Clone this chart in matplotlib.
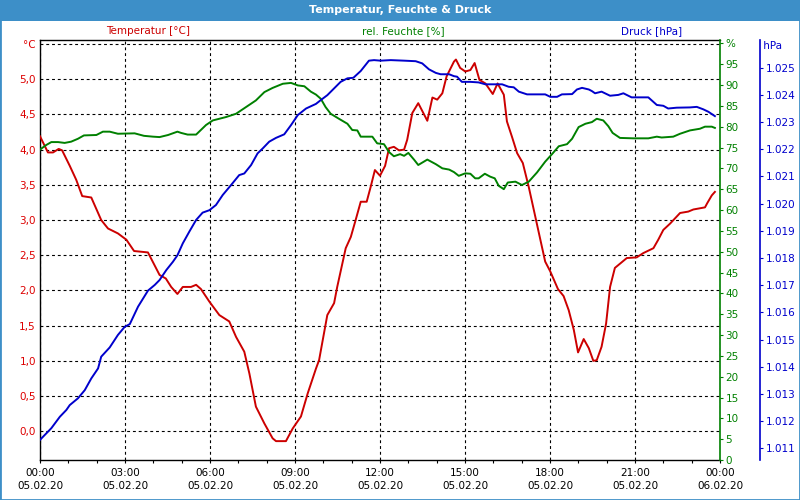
"""Temperatur, Feuchte & Druck - 24h weather station chart (05.02.20)."""
import matplotlib
matplotlib.use('Agg')
import matplotlib.pyplot as plt
from matplotlib.patches import Rectangle
from matplotlib.ticker import FixedLocator, MultipleLocator, FuncFormatter

plt.rcParams.update({'font.family': 'DejaVu Sans', 'font.size': 7.5})

RED   = '#cc0000'
GREEN = '#008000'
BLUE  = '#0000cc'
BAR   = '#3d8fc8'

# ---- data (hours since 05.02.20 00:00) ----
temp_h = [0.00, 0.28, 0.46, 0.66, 0.78, 1.05, 1.28, 1.49, 1.81, 2.16,
          2.40, 2.75, 3.05, 3.32, 3.81, 4.22, 4.44, 4.63, 4.85, 5.04,
          5.33, 5.51, 5.68, 5.98, 6.33, 6.68, 6.92, 7.21, 7.39, 7.62,
          7.92, 8.21, 8.33, 8.68, 8.92, 9.21, 9.45, 9.74, 9.85, 10.14,
          10.38, 10.49, 10.79, 10.97, 11.14, 11.32, 11.53, 11.67, 11.82, 12.00,
          12.18, 12.32, 12.49, 12.67, 12.85, 12.96, 13.14, 13.35, 13.67, 13.85,
          14.02, 14.20, 14.35, 14.61, 14.68, 14.83, 15.01, 15.19, 15.34, 15.51,
          15.72, 15.98, 16.15, 16.37, 16.48, 16.66, 16.84, 17.04, 17.25, 17.48,
          17.66, 17.83, 18.01, 18.28, 18.48, 18.66, 18.84, 18.99, 19.19, 19.37,
          19.53, 19.65, 19.82, 19.98, 20.12, 20.29, 20.47, 20.71, 21.06, 21.29,
          21.65, 21.82, 22.00, 22.24, 22.59, 22.88, 23.06, 23.47, 23.55, 23.71,
          23.82]
temp_c = [4.19, 3.96, 3.96, 4.01, 3.99, 3.77, 3.57, 3.34, 3.32, 3.00,
          2.88, 2.81, 2.72, 2.56, 2.54, 2.22, 2.17, 2.05, 1.95, 2.05,
          2.05, 2.08, 2.02, 1.84, 1.65, 1.56, 1.34, 1.13, 0.82, 0.35,
          0.11, -0.10, -0.14, -0.14, 0.04, 0.21, 0.54, 0.89, 1.01, 1.65,
          1.82, 2.05, 2.60, 2.76, 3.00, 3.26, 3.26, 3.47, 3.71, 3.63,
          3.77, 4.02, 4.04, 3.99, 4.00, 4.14, 4.52, 4.66, 4.41, 4.74,
          4.71, 4.80, 5.04, 5.25, 5.28, 5.16, 5.11, 5.13, 5.23, 4.99,
          4.94, 4.79, 4.94, 4.78, 4.40, 4.18, 3.95, 3.81, 3.47, 3.05,
          2.72, 2.41, 2.27, 2.02, 1.92, 1.72, 1.44, 1.12, 1.31, 1.18,
          1.00, 1.01, 1.20, 1.53, 2.05, 2.32, 2.38, 2.46, 2.47, 2.53,
          2.60, 2.72, 2.86, 2.95, 3.10, 3.12, 3.15, 3.18, 3.24, 3.35,
          3.40]

hum_h = [0.00, 0.22, 0.40, 0.64, 0.87, 1.10, 1.34, 1.55, 1.99, 2.22,
         2.46, 2.75, 3.34, 3.67, 3.99, 4.22, 4.52, 4.85, 4.98, 5.21,
         5.51, 5.86, 6.10, 6.33, 6.56, 6.92, 7.27, 7.62, 7.92, 8.21,
         8.57, 8.86, 9.10, 9.33, 9.56, 9.74, 9.91, 10.08, 10.26, 10.55,
         10.85, 11.02, 11.20, 11.32, 11.73, 11.90, 12.14, 12.32, 12.49, 12.71,
         12.85, 13.00, 13.20, 13.35, 13.67, 13.97, 14.20, 14.44, 14.61, 14.78,
         15.01, 15.19, 15.36, 15.48, 15.70, 15.89, 16.05, 16.19, 16.37, 16.51,
         16.78, 17.01, 17.25, 17.54, 17.83, 18.07, 18.31, 18.60, 18.78, 19.01,
         19.25, 19.48, 19.65, 19.88, 20.06, 20.21, 20.47, 20.94, 21.47, 21.77,
         21.94, 22.35, 22.59, 22.94, 23.29, 23.47, 23.71, 23.82]
hum_pct = [74.5, 75.6, 76.3, 76.3, 76.1, 76.4, 77.1, 77.9, 78.0, 78.8,
           78.8, 78.3, 78.4, 77.8, 77.6, 77.5, 78.0, 78.8, 78.5, 78.1,
           78.1, 80.4, 81.5, 81.9, 82.3, 83.1, 84.7, 86.3, 88.3, 89.3,
           90.3, 90.5, 89.9, 89.7, 88.4, 87.7, 86.7, 84.7, 83.1, 81.9,
           80.7, 79.2, 79.1, 77.6, 77.6, 76.0, 75.8, 73.9, 72.9, 73.4,
           73.0, 73.7, 72.1, 70.8, 72.1, 71.0, 70.0, 69.7, 69.1, 68.2,
           68.8, 68.7, 67.6, 67.6, 68.7, 68.0, 67.6, 65.8, 65.0, 66.6,
           66.8, 66.0, 66.8, 69.0, 71.6, 73.4, 75.3, 75.8, 77.1, 79.9,
           80.7, 81.1, 81.9, 81.5, 80.1, 78.5, 77.3, 77.2, 77.2, 77.6,
           77.4, 77.6, 78.3, 79.1, 79.5, 80.0, 80.0, 79.7]

pres_h = [0.00, 0.40, 0.70, 0.93, 1.05, 1.34, 1.58, 1.81, 2.05, 2.16,
          2.46, 2.75, 2.99, 3.17, 3.46, 3.81, 4.05, 4.22, 4.46, 4.69,
          4.85, 5.04, 5.27, 5.51, 5.74, 5.98, 6.21, 6.45, 6.74, 7.03,
          7.21, 7.45, 7.68, 7.86, 8.09, 8.33, 8.62, 8.86, 9.10, 9.39,
          9.74, 9.91, 10.14, 10.38, 10.61, 10.85, 11.06, 11.32, 11.61, 11.79,
          12.02, 12.38, 12.85, 13.26, 13.49, 13.73, 13.97, 14.14, 14.44, 14.61,
          14.72, 14.89, 15.19, 15.48, 15.72, 16.31, 16.54, 16.72, 16.90, 17.19,
          17.83, 18.01, 18.25, 18.42, 18.78, 18.95, 19.13, 19.37, 19.48, 19.59,
          19.82, 20.12, 20.41, 20.59, 20.88, 21.47, 21.77, 22.00, 22.17, 22.47,
          22.94, 23.18, 23.41, 23.59, 23.82]
pres_hpa = [1011.31, 1011.74, 1012.16, 1012.41, 1012.59, 1012.84, 1013.14, 1013.57, 1013.94, 1014.37,
            1014.71, 1015.17, 1015.47, 1015.57, 1016.21, 1016.80, 1017.01, 1017.19, 1017.56, 1017.86,
            1018.10, 1018.54, 1018.97, 1019.40, 1019.67, 1019.76, 1019.95, 1020.32, 1020.68, 1021.05,
            1021.11, 1021.42, 1021.85, 1022.03, 1022.28, 1022.42, 1022.55, 1022.89, 1023.26, 1023.50,
            1023.67, 1023.81, 1023.99, 1024.24, 1024.48, 1024.61, 1024.63, 1024.88, 1025.26, 1025.28,
            1025.26, 1025.28, 1025.26, 1025.24, 1025.16, 1024.94, 1024.81, 1024.76, 1024.76, 1024.69,
            1024.67, 1024.48, 1024.48, 1024.46, 1024.39, 1024.39, 1024.30, 1024.28, 1024.12, 1024.02,
            1024.02, 1023.93, 1023.93, 1024.02, 1024.03, 1024.20, 1024.26, 1024.20, 1024.14, 1024.06,
            1024.12, 1023.97, 1024.00, 1024.06, 1023.91, 1023.91, 1023.63, 1023.60, 1023.50, 1023.53,
            1023.54, 1023.56, 1023.47, 1023.38, 1023.22]

temp_ticks = [0.0, 0.5, 1.0, 1.5, 2.0, 2.5, 3.0, 3.5, 4.0, 4.5, 5.0, 5.5]
hum_ticks = list(range(0, 101, 5))
pres_ticks = list(range(1011, 1026))
hour_ticks = list(range(0, 25, 3))

# ---- figure ----
fig = plt.figure(figsize=(8, 5), dpi=100)
fig.patch.set_facecolor('white')

# title bar + frame
fig.patches.append(Rectangle((0, 1 - 21/500), 1, 21/500, transform=fig.transFigure,
                             facecolor=BAR, edgecolor='none', zorder=0))
fig.patches.append(Rectangle((0, 0), 1, 1, transform=fig.transFigure,
                             fill=False, edgecolor=BAR, lw=2.0, zorder=5))
fig.text(0.5, 1 - 10/500, 'Temperatur, Feuchte & Druck', ha='center', va='center',
         color='white', fontweight='bold', fontsize=8)

fig.text(148/800, 1 - 31/500, 'Temperatur [°C]', ha='center', va='center', color=RED)
fig.text(403/800, 1 - 31/500, 'rel. Feuchte [%]', ha='center', va='center', color=GREEN)
fig.text(652/800, 1 - 31/500, 'Druck [hPa]', ha='center', va='center', color=BLUE)

ax = fig.add_axes([40/800, 40/500, 680/800, 420/500])
ax2 = ax.twinx()
ax3 = ax.twinx()

# temperature axis (left) carries the grid
ax.plot(temp_h, temp_c, color=RED, lw=1.4, zorder=3)
ax.set_xlim(0, 24)
ax.set_ylim(-0.408, 5.557)
ax.yaxis.set_major_locator(FixedLocator(temp_ticks))
ax.yaxis.set_major_formatter(FuncFormatter(
    lambda v, _: '°C' if v > 5.4 else f'{v:.1f}'.replace('.', ',')))
ax.tick_params(axis='y', length=0, pad=3, labelcolor='#dd0000')
ax.xaxis.set_major_locator(FixedLocator(hour_ticks))
ax.xaxis.set_minor_locator(MultipleLocator(1))
ax.xaxis.set_major_formatter(FuncFormatter(
    lambda v, _: f'{int(v) % 24:02d}:00\n{"06" if v >= 24 else "05"}.02.20'))
ax.tick_params(axis='x', which='both', direction='out', length=2.5, width=0.8, pad=3)
for lbl in ax.get_xticklabels():
    lbl.set_linespacing(1.45)
ax.grid(True, which='major', color='black', lw=0.8, linestyle=(0, (2.6, 2.6)))
for s in ['left', 'bottom', 'top']:
    ax.spines[s].set_color('black')
    ax.spines[s].set_linewidth(1.0)
ax.spines['right'].set_visible(False)

# humidity axis (right, green)
ax2.plot(hum_h, hum_pct, color=GREEN, lw=1.4)
ax2.set_ylim(0, 100.8)
ax2.yaxis.set_major_locator(FixedLocator(hum_ticks))
ax2.yaxis.set_major_formatter(FuncFormatter(lambda v, _: '%' if v >= 100 else f'{int(v)}'))
ax2.tick_params(axis='y', direction='out', length=2.5, width=0.8, pad=1.5,
                color=GREEN, labelcolor=GREEN)
for s in ['left', 'bottom', 'top']:
    ax2.spines[s].set_visible(False)
ax2.spines['right'].set_color(GREEN)
ax2.spines['right'].set_linewidth(1.2)

# pressure axis (outer right, blue)
ax3.plot(pres_h, pres_hpa, color=BLUE, lw=1.4)
ax3.set_ylim(1010.57, 1026.02)
ax3.spines['right'].set_position(('axes', 720/680))
ax3.yaxis.set_major_locator(FixedLocator(pres_ticks))
ax3.yaxis.set_major_formatter(FuncFormatter(lambda v, _: f'{v/1000:.3f}'))
ax3.tick_params(axis='y', direction='out', length=2.5, width=0.8, pad=2,
                color=BLUE, labelcolor=BLUE)
for s in ['left', 'bottom', 'top']:
    ax3.spines[s].set_visible(False)
ax3.spines['right'].set_color(BLUE)
ax3.spines['right'].set_linewidth(1.2)
ax3.text(1.0588, 1025.8, ' hPa', transform=ax3.get_yaxis_transform(),
         ha='left', va='center', color=BLUE)

fig.savefig('out.png', dpi=100, facecolor='white')
